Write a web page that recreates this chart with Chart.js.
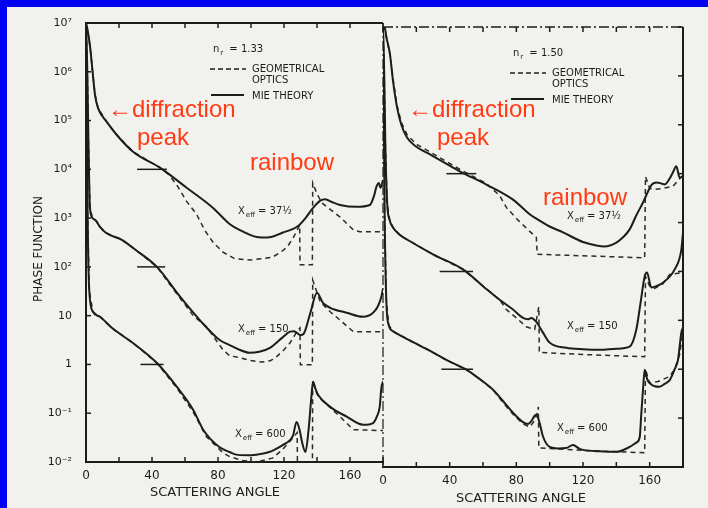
<!DOCTYPE html>
<html>
<head>
<meta charset="utf-8">
<script src="https://cdn.jsdelivr.net/npm/chart.js@4.4.1/dist/chart.umd.min.js"></script>
<style>
  html, body { margin: 0; padding: 0; background: #0000f2; }
  #wrap { position: relative; width: 708px; height: 508px; overflow: hidden; }
  #paper { position: absolute; left: 7px; top: 7px; width: 701px; height: 501px; background: #f1f1ee; }
  canvas { position: absolute; left: 0; top: 0; }
</style>
</head>
<body>
<div id="wrap">
  <div id="paper"></div>
  <canvas id="left_chart" width="708" height="508"></canvas>
  <canvas id="right_chart" width="708" height="508"></canvas>
</div>
<script>
// scattering angle (deg) and phase function
var xTickLabels = [0, 40, 80, 120, 160];
var yTickValues = [1e-2, 1e-1, 1, 10, 1e2, 1e3, 1e4, 1e5, 1e6, 1e7];
var yTickLabels = ['10⁻²', '10⁻¹', '1', '10', '10²', '10³', '10⁴', '10⁵', '10⁶', '10⁷'];

// n_r = 1.33 (left)
var angL37m = [0, 1, 2.5, 4, 5.5, 7.3, 12.7, 18.8, 28.5, 45, 61, 77, 87, 93, 103.6, 110, 119, 128.5, 133, 137.6, 142, 145, 149, 154, 164, 172, 174.5, 176, 177.5, 178.5, 180];
var phaseL37m = [1e7, 7.1e6, 3.2e6, 1e6, 3.3e5, 1.8e5, 9.3e4, 5e4, 2.3e4, 1.07e4, 4200, 1620, 760, 575, 410, 400, 500, 690, 1000, 1620, 2290, 2450, 2140, 1860, 1700, 1860, 2820, 4370, 5250, 4170, 6030];
var angL37g = [0, 1, 2.5, 4, 5.5, 7.3, 12.7, 18.8, 28.5, 45, 50, 55, 61, 67, 72, 77, 83, 90, 100, 113, 118, 122, 126, 129.5, 129.7, 137.2, 137.4, 140, 143, 154, 162, 166, 180];
var phaseL37g = [1e7, 7.1e6, 3.2e6, 1e6, 3.3e5, 1.8e5, 9.3e4, 5e4, 2.3e4, 1.07e4, 7900, 4800, 2200, 1200, 560, 320, 200, 148, 138, 158, 200, 257, 417, 724, 110, 110, 5250, 3160, 2040, 1050, 575, 525, 525];

var angL150m = [0, 0.8, 1.5, 2.4, 4, 6, 8.5, 12, 22, 30, 43, 57, 69, 81, 87, 93, 99, 105, 111.5, 119, 123.6, 126, 128, 130, 132, 136, 140, 143.6, 148, 158, 168, 174, 177, 179, 180];
var phaseL150m = [1e7, 1e6, 3.2e4, 1600, 1000, 890, 660, 500, 355, 224, 100, 24.5, 8.1, 3.16, 2.5, 2.0, 1.74, 1.82, 2.19, 3.55, 4.7, 4.8, 4.4, 4.0, 4.3, 11.5, 29.5, 18.2, 14.5, 11.5, 9.5, 11.5, 15.8, 24.5, 35.5];
var angL150g = [0, 0.8, 1.5, 2.4, 4, 6, 8.5, 12, 22, 30, 43, 57, 65, 73, 83, 87, 93, 100, 107, 112, 115.6, 120, 123.6, 127.8, 129.7, 129.9, 137.2, 137.4, 142, 148, 154, 162, 180];
var phaseL150g = [1e7, 1e6, 3.2e4, 1600, 1000, 890, 660, 500, 355, 224, 100, 22.9, 10, 5.9, 2.0, 1.51, 1.38, 1.2, 1.12, 1.2, 1.45, 2.0, 2.75, 4.7, 5.6, 0.98, 0.98, 53.7, 19.1, 12.0, 8.1, 4.7, 4.7];

var angL600m = [0, 0.5, 1, 2, 4.2, 8.5, 16, 28.5, 43, 55, 65, 71, 81, 87, 92, 99, 105, 111, 119, 123.6, 125.5, 127.6, 129.5, 131, 133, 135, 136.5, 137.6, 139, 140.6, 148, 158, 168, 174, 176.5, 178, 179, 180];
var phaseL600m = [1e7, 1e5, 1000, 31.6, 12.0, 9.5, 5.5, 2.75, 1.07, 0.35, 0.117, 0.046, 0.020, 0.016, 0.014, 0.0138, 0.0145, 0.016, 0.022, 0.028, 0.035, 0.066, 0.045, 0.025, 0.016, 0.05, 0.2, 0.44, 0.32, 0.24, 0.135, 0.085, 0.058, 0.063, 0.089, 0.135, 0.33, 0.45];
var angL600g = [0, 0.5, 1, 2, 4.2, 8.5, 16, 28.5, 43, 55, 65, 73, 83, 87, 95, 103.6, 113, 119, 125.5, 128, 128.2, 137.2, 137.4, 140, 142, 154, 162, 180];
var phaseL600g = [1e7, 1e5, 1000, 31.6, 12.0, 9.5, 5.5, 2.75, 1.07, 0.33, 0.105, 0.033, 0.0155, 0.0129, 0.0107, 0.010, 0.012, 0.0178, 0.0316, 0.040, 0.005, 0.005, 0.48, 0.25, 0.2, 0.085, 0.046, 0.044];

// n_r = 1.50 (right)
var angR37m = [0, 1, 2, 4.2, 6, 8.4, 11, 14.4, 20, 28, 46, 62, 78, 88, 92, 100, 108, 120, 128, 133, 140, 144, 148, 152, 156, 158.5, 161.4, 164, 167, 169, 172, 174, 176, 178, 180];
var phaseR37m = [1e7, 1e7, 6.3e6, 2.75e6, 7.9e5, 2.3e5, 1e5, 5.5e4, 3.55e4, 2.5e4, 1.12e4, 6000, 2950, 1480, 1200, 830, 630, 400, 340, 325, 390, 500, 725, 1410, 2570, 3980, 6030, 6610, 6310, 6030, 7940, 1.07e4, 1.41e4, 8300, 8900];
var angR37g = [0, 1, 2, 4.2, 6, 8.4, 11, 14.4, 20, 28, 46, 62, 70, 74, 81, 88, 92, 92.5, 120, 157, 157.5, 160, 163, 168, 174, 178, 180];
var phaseR37g = [1e7, 1e7, 6.3e6, 2.75e6, 8.9e5, 2.5e5, 1.12e5, 6.3e4, 4.0e4, 2.8e4, 1.23e4, 6300, 3550, 2040, 1120, 660, 500, 224, 209, 190, 8700, 5000, 4790, 5000, 5500, 7940, 8900];

var angR150m = [0, 0.7, 1.4, 2.5, 4, 6, 10, 14.4, 30, 48, 60, 70, 78, 84, 87, 89, 92, 96, 100, 110, 120, 130, 140, 148, 152, 154.5, 157, 158.4, 161, 164, 168, 175, 179, 180];
var phaseR150m = [1e7, 1.26e6, 4e4, 2500, 1120, 790, 560, 450, 224, 110, 50, 26.3, 16.6, 11.2, 10.5, 11.2, 9.3, 5.6, 3.5, 2.75, 2.57, 2.5, 2.63, 2.9, 6.5, 22.4, 79, 95, 47, 50, 59, 110, 280, 630];
var angR150g = [0, 0.7, 1.4, 2.5, 4, 6, 10, 14.4, 30, 48, 60, 70, 74, 80, 86, 91, 93.5, 93.8, 120, 157, 157.5, 160, 163, 168, 172, 180];
var phaseR150g = [1e7, 1.26e6, 4e4, 2500, 1120, 790, 560, 450, 224, 110, 50, 26.3, 16.6, 11.2, 7.4, 6.5, 19, 2.2, 2.0, 1.8, 79, 50, 45, 56, 87, 95];

var angR600m = [0, 0.5, 1, 2, 3.5, 6, 10, 18, 28, 38, 50, 58, 66, 72, 78, 84, 87, 89, 91, 92, 94, 96, 100, 105, 110, 114, 118, 120, 130, 140, 148, 152, 154, 155, 156, 157, 158.5, 160, 163, 166, 169, 172, 175, 177, 179, 180];
var phaseR600m = [1e7, 1.26e5, 1260, 25, 7.9, 6.0, 5.0, 3.6, 2.4, 1.55, 0.98, 0.63, 0.38, 0.224, 0.129, 0.083, 0.076, 0.087, 0.112, 0.117, 0.079, 0.042, 0.0257, 0.024, 0.0245, 0.0282, 0.0234, 0.0224, 0.0209, 0.0204, 0.0257, 0.0316, 0.040, 0.126, 0.38, 0.98, 0.63, 0.52, 0.45, 0.44, 0.5, 0.6, 1.0, 1.55, 5.6, 7.1];
var angR600g = [0, 0.5, 1, 2, 3.5, 6, 10, 18, 28, 38, 50, 58, 66, 72, 78, 84, 88, 91, 92.5, 93.2, 93.5, 120, 157, 157.5, 160, 165, 172, 175, 178, 180];
var phaseR600g = [1e7, 1.26e5, 1260, 25, 7.9, 6.0, 5.0, 3.6, 2.4, 1.55, 0.98, 0.63, 0.38, 0.209, 0.12, 0.076, 0.066, 0.089, 0.126, 0.17, 0.0245, 0.0219, 0.0195, 0.98, 0.52, 0.56, 0.71, 1.0, 2.0, 6.3];

// short normalisation bars on the curves
var markLeftAng = [[31, 49], [31, 48], [33, 47]];
var markRightAng = [[38, 56], [34, 54], [35, 54]];
var markPhase = [1e4, 100, 1];

var ink = '#1c1c1c';
var red = '#ff3b14';
var letter = 'DejaVu Sans';

function pts(ang, val) {
    return ang.map(function (a, i) { return {x: a, y: val[i]}; });
}
function mie(ang, val) {
    return {data: pts(ang, val), borderColor: ink, borderWidth: 2, pointRadius: 0,
            cubicInterpolationMode: 'monotone', fill: false};
}
function geo(ang, val) {
    return {data: pts(ang, val), borderColor: '#2a2a2a', borderWidth: 1.5, borderDash: [5, 4],
            pointRadius: 0, tension: 0, fill: false};
}
function marks(angs) {
    return angs.map(function (a, i) {
        return {data: [{x: a[0], y: markPhase[i]}, {x: a[1], y: markPhase[i]}],
                borderColor: ink, borderWidth: 1.5, pointRadius: 0, fill: false};
    });
}

function line(ctx, x1, y1, x2, y2) {
    ctx.beginPath(); ctx.moveTo(x1, y1); ctx.lineTo(x2, y2); ctx.stroke();
}
function text(ctx, s, x, y, size, color, align) {
    ctx.font = size + 'px "' + letter + '"';
    ctx.fillStyle = color || ink;
    ctx.textAlign = align || 'left';
    ctx.fillText(s, x, y);
}
// "X" with subscript "eff"
function xeff(ctx, x, y, val) {
    ctx.textAlign = 'left';
    ctx.fillStyle = ink;
    ctx.font = '10px "' + letter + '"';
    ctx.fillText('X', x, y);
    var w = ctx.measureText('X').width;
    ctx.font = '7px "' + letter + '"';
    ctx.fillText('eff', x + w + 1, y + 3);
    var w2 = ctx.measureText('eff').width;
    ctx.font = '10px "' + letter + '"';
    ctx.fillText('= ' + val, x + w + w2 + 4, y);
}
function nr(ctx, x, y, val) {
    ctx.textAlign = 'left';
    ctx.fillStyle = ink;
    ctx.font = '10px "' + letter + '"';
    ctx.fillText('n', x, y);
    var w = ctx.measureText('n').width;
    ctx.font = '7px "' + letter + '"';
    ctx.fillText('r', x + w + 1, y + 3);
    ctx.font = '10px "' + letter + '"';
    ctx.fillText('= ' + val, x + w + 10, y);
}
function legend(ctx, x, y, val) {
    nr(ctx, x + 3, y, val);
    ctx.setLineDash([5, 3]); ctx.lineWidth = 1.5;
    line(ctx, x, y + 17, x + 36, y + 17);
    ctx.setLineDash([]); ctx.lineWidth = 2;
    line(ctx, x + 1, y + 43, x + 34, y + 43);
    text(ctx, 'GEOMETRICAL', x + 42, y + 20, 10);
    text(ctx, 'OPTICS', x + 42, y + 31, 10);
    text(ctx, 'MIE THEORY', x + 42, y + 47, 10);
}
function redText(ctx, s, x, y) {
    ctx.font = '24px "Liberation Sans", Arial, sans-serif';
    ctx.fillStyle = red;
    ctx.textAlign = 'left';
    ctx.fillText(s, x, y);
}

var frame = {
    id: 'frame',
    afterDraw: function (chart, args, opt) {
        var ctx = chart.ctx, a = chart.chartArea, sx = chart.scales.x, sy = chart.scales.y;
        var left = opt.side === 'left';
        ctx.save();
        ctx.strokeStyle = ink;
        ctx.lineWidth = 1.5;
        // inward ticks
        sx.ticks.forEach(function (t) {
            var px = sx.getPixelForValue(t.value);
            line(ctx, px, a.bottom, px, a.bottom - 5);
            line(ctx, px, a.top, px, a.top + 5);
        });
        var edge = left ? a.left : a.right, dir = left ? 5 : -5;
        yTickValues.forEach(function (v) {
            var py = sy.getPixelForValue(v);
            line(ctx, edge, py, edge + dir, py);
        });
        if (left) {
            ctx.lineWidth = 2;
            line(ctx, a.left, a.top, a.right, a.top);
            // axis titles
            ctx.save();
            ctx.translate(42, 249);
            ctx.rotate(-Math.PI / 2);
            text(ctx, 'PHASE FUNCTION', 0, 0, 12, ink, 'center');
            ctx.restore();
            text(ctx, 'SCATTERING ANGLE', 215, 496, 13, ink, 'center');
            legend(ctx, 210, 52, '1.33');
            xeff(ctx, 238, 214, '37½');
            xeff(ctx, 238, 332, '150');
            xeff(ctx, 235, 437, '600');
            redText(ctx, '←diffraction', 108, 117);
            redText(ctx, 'peak', 137, 145);
            redText(ctx, 'rainbow', 250, 170);
        } else {
            ctx.lineWidth = 1.5;
            ctx.setLineDash([10, 3, 2, 3]);
            line(ctx, a.left, a.top, a.right, a.top);
            ctx.lineWidth = 1.2;
            line(ctx, a.left, 23, a.left, a.bottom);
            ctx.setLineDash([]);
            ctx.lineWidth = 2;
            line(ctx, a.right, a.top, a.right, a.bottom);
            text(ctx, 'SCATTERING ANGLE', 521, 502, 13, ink, 'center');
            legend(ctx, 510, 56, '1.50');
            xeff(ctx, 567, 219, '37½');
            xeff(ctx, 567, 329, '150');
            xeff(ctx, 557, 431, '600');
            redText(ctx, '←diffraction', 408, 117);
            redText(ctx, 'peak', 437, 145);
            redText(ctx, 'rainbow', 543, 205);
        }
        ctx.restore();
    }
};

function makeChart(id, side, sets) {
    var left = side === 'left';
    return new Chart(document.getElementById(id).getContext('2d'), {
        type: 'line',
        data: {datasets: sets},
        options: {
            responsive: false,
            animation: false,
            layout: {
                padding: left ? {left: 0, top: 23, right: 325, bottom: 0}
                              : {left: 383, top: 27, right: 25, bottom: 0}
            },
            plugins: {
                legend: {display: false},
                tooltip: {enabled: false},
                frame: {side: side}
            },
            scales: {
                x: {
                    type: 'linear', min: 0, max: 180,
                    afterFit: function (s) { s.height = left ? 46 : 41; },
                    grid: {display: false},
                    border: {display: true, color: ink, width: 2},
                    ticks: {
                        stepSize: 20, autoSkip: false, maxRotation: 0,
                        padding: -1,
                        color: ink,
                        font: {family: letter, size: 12},
                        callback: function (v) { return xTickLabels.indexOf(v) >= 0 ? String(v) : ''; }
                    }
                },
                y: {
                    type: 'logarithmic', min: 1e-2, max: 1e7,
                    display: left,
                    afterFit: function (s) { s.width = left ? 86 : 0; },
                    afterBuildTicks: function (s) {
                        s.ticks = yTickValues.map(function (v) { return {value: v}; });
                    },
                    grid: {display: false},
                    border: {display: true, color: ink, width: 2},
                    ticks: {
                        padding: 6,
                        color: ink,
                        font: {family: letter, size: 11},
                        callback: function (v) {
                            var i = yTickValues.indexOf(v);
                            return i >= 0 ? yTickLabels[i] : '';
                        }
                    }
                }
            }
        },
        plugins: [frame]
    });
}

makeChart('left_chart', 'left', [
    mie(angL37m, phaseL37m), geo(angL37g, phaseL37g),
    mie(angL150m, phaseL150m), geo(angL150g, phaseL150g),
    mie(angL600m, phaseL600m), geo(angL600g, phaseL600g)
].concat(marks(markLeftAng)));

makeChart('right_chart', 'right', [
    mie(angR37m, phaseR37m), geo(angR37g, phaseR37g),
    mie(angR150m, phaseR150m), geo(angR150g, phaseR150g),
    mie(angR600m, phaseR600m), geo(angR600g, phaseR600g)
].concat(marks(markRightAng)));
</script>
</body>
</html>
